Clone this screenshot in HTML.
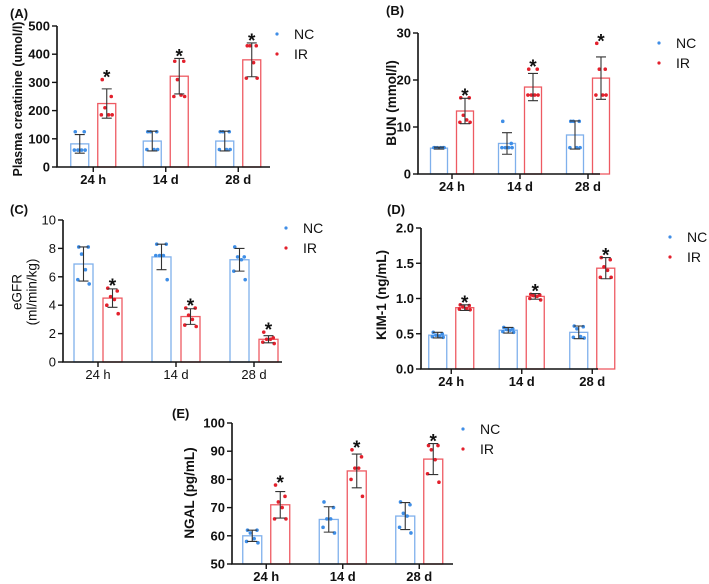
<!DOCTYPE html>
<html><head><meta charset="utf-8"><style>
html,body{margin:0;padding:0;background:#fff;}
svg{display:block;font-family:"Liberation Sans",Arial,sans-serif;}
</style></head><body>
<svg id="fig" width="709" height="584" viewBox="0 0 709 584"></svg>
<script>
// ---- data ----
const categories = ["24 h","14 d","28 d"];
const seriesNames = ["NC","IR"];
// Panel A: plasma creatinine
const aNcMean = [82,92,92];  const aNcSd = [33,35,35];
const aIrMean = [225,322,380]; const aIrSd = [52,63,60];
const aNcPts = [[125,125,60,60,60,60],[125,125,125,62,62,62],[125,125,125,62,62,62]];
const aIrPts = [[310,250,210,185,185,185],[375,375,310,255,250,250],[430,430,430,370,315,315]];
const aTicks = [0,100,200,300,400,500];
// Panel B: BUN
const bNcMean = [5.5,6.5,8.3]; const bNcSd = [0.2,2.3,3.0];
const bIrMean = [13.4,18.5,20.4]; const bIrSd = [2.7,2.9,4.5];
const bNcPts = [[5.6,5.6,5.6,5.6,5.6,5.6],[11.2,6.5,5.6,5.6,5.6,5.6],[11.2,11.2,11.2,5.6,5.6,5.6]];
const bIrPts = [[16.2,16.2,12.5,11.5,11,11],[22.3,22.3,16.8,16.8,16.8,16.8],[27.8,22.3,22.3,16.8,16.8,16.8]];
const bTicks = [0,10,20,30];
// Panel C: eGFR
const cNcMean = [6.9,7.4,7.2]; const cNcSd = [1.2,0.9,0.8];
const cIrMean = [4.5,3.2,1.6]; const cIrSd = [0.65,0.55,0.25];
const cNcPts = [[8.1,8.1,7.6,6.5,5.8,5.5],[8.3,8.3,7.5,7.5,7.5,5.8],[8.1,7.4,7.4,7.2,6.4,5.8]];
const cIrPts = [[5.2,5.0,4.6,4.4,4.0,3.4],[3.8,3.8,3.3,3.0,2.6,2.5],[2.1,1.7,1.6,1.6,1.4,1.3]];
const cTicks = [0,2,4,6,8,10];
// Panel D: KIM-1
const dNcMean = [0.48,0.55,0.52]; const dNcSd = [0.04,0.04,0.09];
const dIrMean = [0.87,1.03,1.43]; const dIrSd = [0.04,0.04,0.15];
const dNcPts = [[0.52,0.5,0.48,0.47,0.46,0.45],[0.59,0.57,0.56,0.55,0.53,0.52],[0.61,0.6,0.57,0.46,0.45,0.44]];
const dIrPts = [[0.91,0.9,0.88,0.86,0.85,0.84],[1.06,1.05,1.04,1.03,1.0,0.98],[1.58,1.55,1.45,1.4,1.3,1.3]];
const dTicks = [0,0.5,1.0,1.5,2.0];
const dTickLabels = ["0.0","0.5","1.0","1.5","2.0"];
// Panel E: NGAL
const eNcMean = [60,65.8,67]; const eNcSd = [2,4.5,4.8];
const eIrMean = [71,83,87.2]; const eIrSd = [4.7,6,5.5];
const eNcPts = [[62,62,61,59,58,57.5],[72,70,66,66,63,61],[72,71,68,67,63,61]];
const eIrPts = [[78,74,72,70,66,66],[90.5,88,84,84,80,74],[92,92,90.5,87,82,79]];
const eTicks = [50,60,70,80,90,100];

// ---- drawing ----
const NS="http://www.w3.org/2000/svg";
const svg=document.getElementById('fig');
function mk(tag,attrs,parent){const e=document.createElementNS(NS,tag);for(const k in attrs)e.setAttribute(k,attrs[k]);(parent||svg).appendChild(e);return e;}
const C={ncStroke:"#7fb0ec",irStroke:"#ee5a62",ncPt:"#3f8ee6",irPt:"#e3202c",err:"#333"};
const jitter=[-5,5,-2,2,-6,6];

function panel(id,L,d){
  const g=mk('g',{});
  
  
  const y=v=>L.y0-(v-L.vmin)/(L.vmax-L.vmin)*(L.y0-L.y1);
  const xc=i=>L.xo+L.step*(i+0.5);
  const fw=L.bold?'bold':'normal';
  const t=mk('text',{x:L.tx,y:L.ty,'font-size':13,'font-weight':'bold',fill:'#111'},g);
  t.textContent='('+id+')';
  
  
  const groups=[[d.ncM,d.ncS,d.ncP,C.ncStroke,C.ncPt,-1,'nc'],[d.irM,d.irS,d.irP,C.irStroke,C.irPt,1,'ir']];
  groups.forEach(([M,S,P,stroke,pc,sgn,nm])=>{
    M.forEach((m,i)=>{
      const cx=xc(i)+sgn*L.off;
      const r=mk('rect',{x:cx-L.bw/2,y:y(m),width:L.bw,height:L.y0-y(m),fill:'#fff',stroke:stroke,'stroke-width':1.3},g);
      
      
      P[i].forEach((p,k)=>{
        const c=mk('circle',{cx:cx+jitter[k]*L.bw/20,cy:y(p),r:1.8,fill:pc},g);
        
        
      });
      const top=y(m+S[i]),bot=y(m-S[i]);
      const e=mk('path',{d:`M${cx},${top}V${bot}M${cx-5},${top}H${cx+5}M${cx-5},${bot}H${cx+5}`,stroke:C.err,'stroke-width':1.1,fill:'none'},g);
      
      
      if(nm==='ir'){
        const mx=Math.min(top,y(Math.max(...P[i])));
        const s=mk('text',{x:cx,y:mx+4,'text-anchor':'middle','font-size':19,'font-weight':'bold',fill:'#111'},g);
        s.textContent='*';
        
        
      }
    });
  });
  const ax=mk('path',{d:`M${L.ax},${L.y1}V${L.y0}H${L.xend}`,stroke:'#111','stroke-width':1.6,fill:'none'},g);
  
  
  L.ticks.forEach((v,k)=>{
    mk('line',{x1:L.ax-5,x2:L.ax,y1:y(v),y2:y(v),stroke:'#111','stroke-width':1.4},g);
    const tl=mk('text',{x:L.ax-7,y:y(v)+4.5,'text-anchor':'end','font-size':13,'font-weight':fw,fill:'#111'},g);
    tl.textContent=L.labels?L.labels[k]:String(v);
    
    
  });
  categories.forEach((c,i)=>{
    mk('line',{x1:xc(i),x2:xc(i),y1:L.y0,y2:L.y0+5,stroke:'#111','stroke-width':1.4},g);
    const tl=mk('text',{x:xc(i),y:L.y0+17,'text-anchor':'middle','font-size':13,'font-weight':fw,fill:'#111'},g);
    tl.textContent=c;
    
    
  });
  const yl=mk('text',{transform:`translate(${L.ylx},${L.yly}) rotate(-90)`,'text-anchor':'middle','font-size':L.ylfs||13.5,'font-weight':fw,fill:'#111'},g);
  
  
  L.ylab.forEach((s,k)=>{const ts=mk('tspan',{x:0,y:k*15-(L.ylab.length-1)*7.5+4},yl);ts.textContent=s;});
  seriesNames.forEach((n,k)=>{
    const ly=L.ly+k*20;
    mk('circle',{cx:L.lx,cy:ly,r:1.6,fill:k?C.irPt:C.ncPt},g);
    const lt=mk('text',{x:L.lx+17,y:ly+5,'font-size':14,fill:'#111'},g);
    lt.textContent=n;
    
    
  });
}
panel('A',{tx:10,ty:18,ax:57,xend:270,xo:57,step:72.5,off:13.5,bw:18,y0:167,y1:26,vmin:0,vmax:500,ticks:aTicks,bold:true,ylx:18,yly:99,ylfs:12.5,ylab:["Plasma creatinine (umol/l)"],lx:277,ly:34},
  {ncM:aNcMean,ncS:aNcSd,ncP:aNcPts,irM:aIrMean,irS:aIrSd,irP:aIrPts});
panel('B',{tx:386,ty:15,ax:418,xend:600,xo:418,step:68,off:13,bw:17,y0:174,y1:33,vmin:0,vmax:30,ticks:bTicks,bold:true,ylx:392,yly:103,ylab:["BUN (mmol/l)"],lx:659,ly:43},
  {ncM:bNcMean,ncS:bNcSd,ncP:bNcPts,irM:bIrMean,irS:bIrSd,irP:bIrPts});
panel('C',{tx:10,ty:214,ax:63,xend:282,xo:59,step:78,off:14.5,bw:19,y0:362,y1:220,vmin:0,vmax:10,ticks:cTicks,bold:false,ylx:25,yly:292,ylab:["eGFR","(ml/min/kg)"],lx:286,ly:228},
  {ncM:cNcMean,ncS:cNcSd,ncP:cNcPts,irM:cIrMean,irS:cIrSd,irP:cIrPts});
panel('D',{tx:387,ty:214,ax:421,xend:598,xo:416,step:70.5,off:13.5,bw:18,y0:369,y1:228,vmin:0,vmax:2,ticks:dTicks,labels:dTickLabels,bold:true,ylx:382,yly:295,ylab:["KIM-1 (ng/mL)"],lx:670,ly:237},
  {ncM:dNcMean,ncS:dNcSd,ncP:dNcPts,irM:dIrMean,irS:dIrSd,irP:dIrPts});
panel('E',{tx:172,ty:418,ax:232,xend:453,xo:228,step:76.5,off:14,bw:19,y0:564,y1:423,vmin:50,vmax:100,ticks:eTicks,bold:true,ylx:190,yly:493,ylab:["NGAL (pg/mL)"],lx:463,ly:429},
  {ncM:eNcMean,ncS:eNcSd,ncP:eNcPts,irM:eIrMean,irS:eIrSd,irP:eIrPts});
</script>
</body></html>
